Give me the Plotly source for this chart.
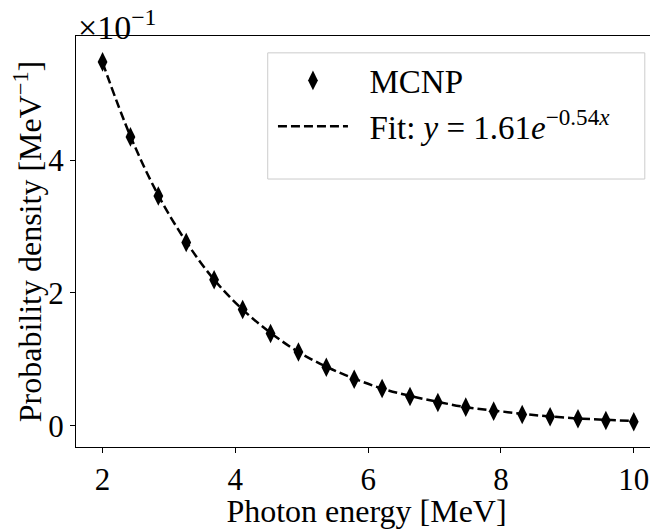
import plotly.graph_objects as go

# Data (probability density, MeV^-1)
energy = [2.00, 2.42, 2.84, 3.26, 3.68, 4.11, 4.53, 4.95, 5.37, 5.79,
          6.21, 6.63, 7.05, 7.47, 7.89, 8.32, 8.74, 9.16, 9.58, 10.00]
mcnp = [0.0548, 0.0435, 0.0346, 0.0276, 0.0220, 0.0175, 0.0139, 0.0111, 0.0088, 0.0070,
        0.0056, 0.0044, 0.0035, 0.0028, 0.0022, 0.0017, 0.00135, 0.00105, 0.0008, 0.0006]
fit = [0.0547, 0.0436, 0.0347, 0.0277, 0.0220, 0.0175, 0.0140, 0.0111, 0.0089, 0.0071,
       0.0056, 0.0045, 0.0036, 0.0028, 0.0023, 0.0018, 0.0014, 0.0011, 0.0009, 0.0007]
ytick_vals = [0.0, 0.02, 0.04]
ytick_text = ["0", "2", "4"]
xtick_vals = [2, 4, 6, 8, 10]

FONT = "Liberation Serif"
PAD = "\u00a0\u00a0"

fig = go.Figure()
fig.add_trace(go.Scatter(
    x=energy, y=mcnp, mode="markers", name=PAD + "MCNP",
    marker=dict(symbol="diamond-tall", size=14, color="black"),
))
fig.add_trace(go.Scatter(
    x=energy, y=fit, mode="lines", line_shape="spline",
    name=PAD + "Fit: <i>y</i> = 1.61<i>e</i><sup>−0.54<i>x</i></sup>",
    line=dict(color="black", width=2.5, dash="9px,4px"),
))

# page has an 8px body margin, so the figure is 8px smaller and margins shifted
fig.update_layout(
    width=650, height=521,
    margin=dict(l=68, r=1, t=28, b=82),
    plot_bgcolor="white", paper_bgcolor="white",
    font=dict(family=FONT, size=31, color="black"),
    showlegend=True,
    legend=dict(
        x=0.339, y=0.96, xanchor="left", yanchor="top",
        bgcolor="rgba(0,0,0,0)", borderwidth=0,
        font=dict(family=FONT, size=33), itemwidth=70,
    ),
    xaxis=dict(
        range=[1.6, 10.35], tickvals=xtick_vals,
        showline=True, linecolor="black", linewidth=1, mirror=True,
        ticks="outside", ticklen=5, tickcolor="black",
        showgrid=False, zeroline=False,
        title=dict(text="Photon energy [MeV]", standoff=5, font=dict(size=32)),
    ),
    yaxis=dict(
        range=[-0.0032, 0.0587], tickvals=ytick_vals, ticktext=ytick_text,
        showline=True, linecolor="black", linewidth=1, mirror=True,
        ticks="outside", ticklen=5, tickcolor="black",
        showgrid=False, zeroline=False,
        title=dict(text="Probability density [MeV<sup>−1</sup>]", standoff=2, font=dict(size=32)),
    ),
    shapes=[dict(
        type="rect", xref="paper", yref="paper",
        x0=0.330, x1=0.979, y0=0.652, y1=0.959,
        line=dict(color="#cccccc", width=1), fillcolor="white", layer="below",
    )],
)
fig.add_annotation(
    x=0, y=1, xref="paper", yref="paper", xanchor="left", yanchor="bottom",
    text="×10<sup>−1</sup>", showarrow=False, font=dict(family=FONT, size=34),
    yshift=-12,
)

fig.write_html("out.html")
